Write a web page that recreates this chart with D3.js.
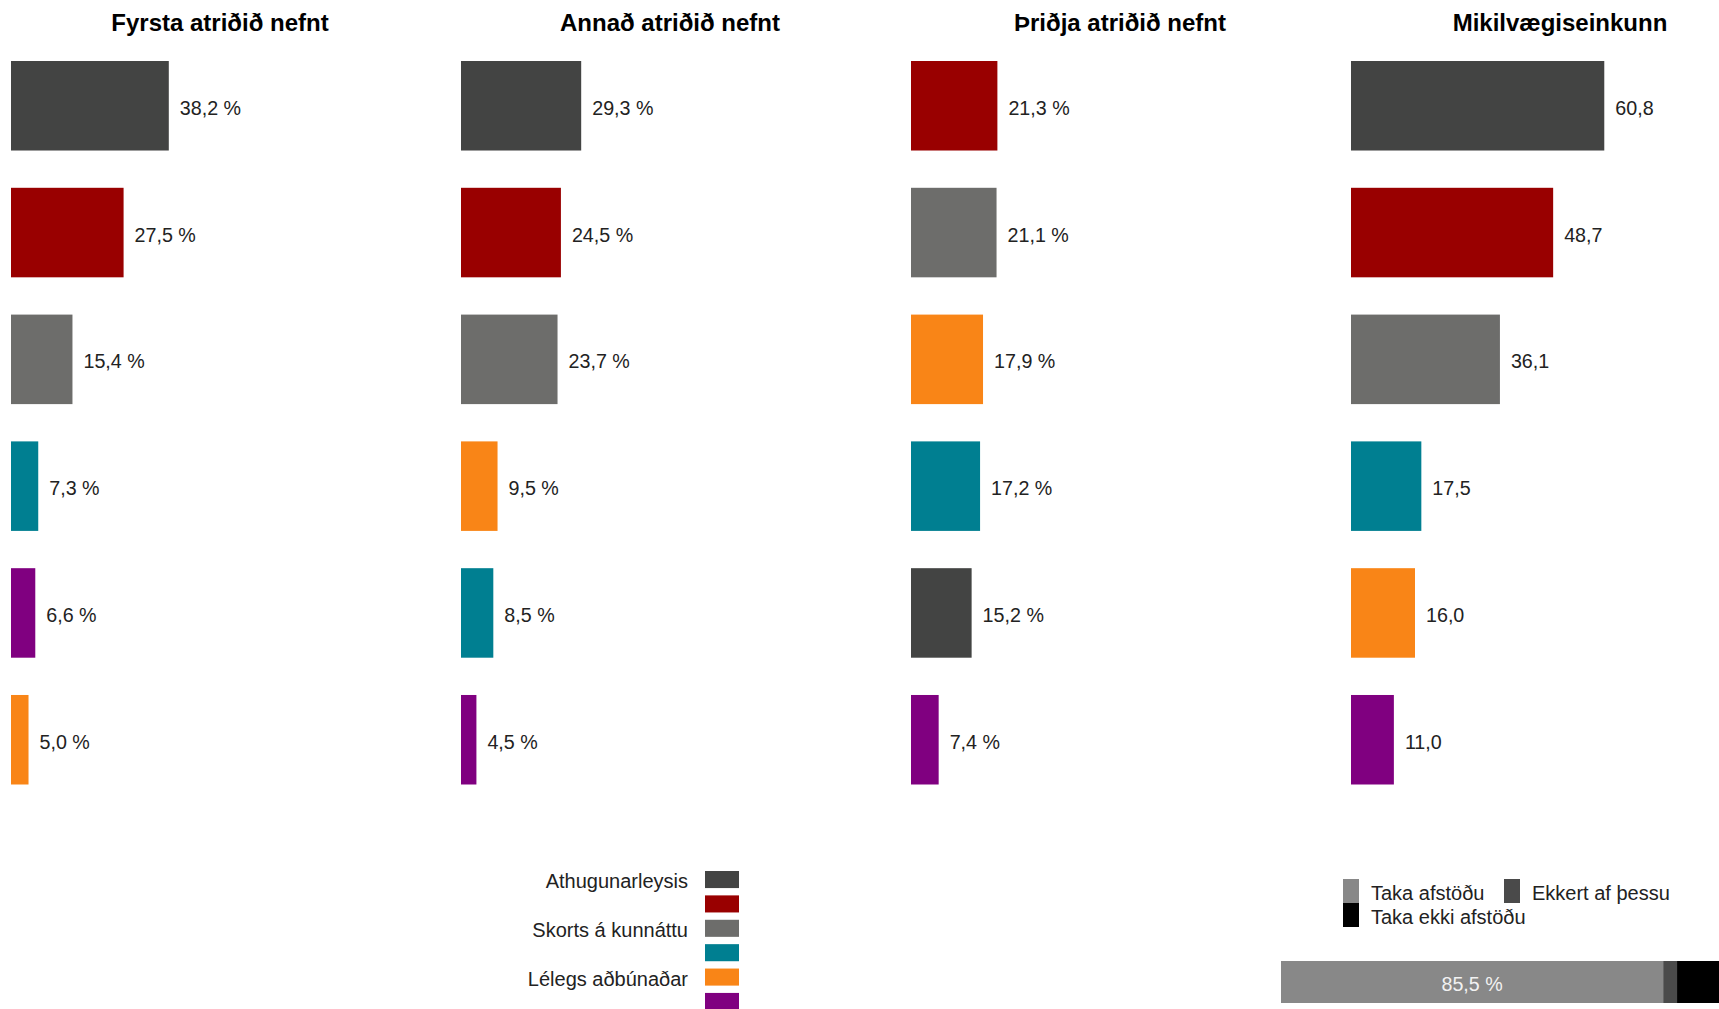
<!DOCTYPE html>
<html>
<head>
<meta charset="utf-8">
<script src="https://cdn.jsdelivr.net/npm/d3@7"></script>
<style>
  html, body { margin: 0; padding: 0; background: #fff; overflow: hidden; }
  svg { display: block; font-family: "Liberation Sans", Arial, sans-serif; }
</style>
</head>
<body>
<div class="chart"></div>
<script>
// categories (legend order) and their colours
const categories = ["Athugunarleysis", "", "Skorts á kunnáttu", "", "Lélegs aðbúnaðar", ""]
const colors = ["#434443", "#990000", "#6d6d6b", "#007f91", "#f98517", "#800080"]

// panel titles
const titles = ["Fyrsta atriðið nefnt", "Annað atriðið nefnt", "Þriðja atriðið nefnt", "Mikilvægiseinkunn"]

// values per category, one array per panel
const first  = [38.2, 27.5, 15.4, 7.3, 5.0, 6.6]
const second = [29.3, 24.5, 23.7, 8.5, 9.5, 4.5]
const third  = [15.2, 21.3, 21.1, 17.2, 17.9, 7.4]
const score  = [60.8, 48.7, 36.1, 17.5, 16.0, 11.0]

// stacked answer bar
const answerLabels = ["Taka afstöðu", "Ekkert af þessu", "Taka ekki afstöðu"]
const answerValues = [85.5, 3.1, 11.4]
const answerColors = ["#888888", "#4a4a4a", "#000000"]

const width = 1719, height = 1009
const panelX = [11, 461, 911, 1351]
const locale = d3.formatLocale({decimal: ",", thousands: ".", grouping: [3], currency: ["", ""]})
const fmt = locale.format(".1f")

const svg = d3.select(".chart").append("svg")
  .attr("width", width)
  .attr("height", height)

// zero sits a little left of the panel edge, bars are cut at the edge
const x = d3.scaleLinear().domain([0, 100]).range([-3.6, 418.9])
const y = d3.scaleBand().domain(d3.range(6))
  .range([61, 784.5])
  .paddingInner(0.294)
  .paddingOuter(0)

const panels = [first, second, third, score]

panels.forEach((vals, p) => {
  const rows = vals.map((v, i) => ({v: v, c: i}))
    .sort((a, b) => b.v - a.v)
  const suffix = p < 3 ? " %" : ""

  const g = svg.append("g")
    .attr("transform", "translate(" + panelX[p] + ",0)")

  g.append("text")
    .attr("x", 209)
    .attr("y", 31)
    .attr("text-anchor", "middle")
    .style("font-size", "24px")
    .style("font-weight", "bold")
    .style("fill", "#000")
    .text(titles[p])

  g.selectAll("rect")
    .data(rows)
    .enter()
    .append("rect")
      .attr("x", 0)
      .attr("y", (d, i) => y(i))
      .attr("width", d => x(d.v))
      .attr("height", y.bandwidth())
      .style("fill", d => colors[d.c])

  g.selectAll("text.val")
    .data(rows)
    .enter()
    .append("text")
      .attr("class", "val")
      .attr("x", d => x(d.v) + 11)
      .attr("y", (d, i) => y(i) + y.bandwidth() / 2 + 9)
      .style("font-size", "19.7px")
      .style("fill", "#222")
      .text(d => fmt(d.v) + suffix)
})

// category legend
const lg = svg.append("g")
const ly = d3.scaleBand().domain(d3.range(6)).range([871, 1010]).paddingInner(0.3).paddingOuter(0)

lg.selectAll("rect")
  .data(categories)
  .enter()
  .append("rect")
    .attr("x", 705)
    .attr("y", (d, i) => ly(i))
    .attr("width", 34)
    .attr("height", ly.bandwidth())
    .style("fill", (d, i) => colors[i])

lg.selectAll("text")
  .data(categories)
  .enter()
  .append("text")
    .attr("x", 688)
    .attr("y", (d, i) => ly(i) + ly.bandwidth())
    .attr("text-anchor", "end")
    .style("font-size", "20px")
    .style("fill", "#222")
    .text(d => d)

// answer legend
const alPos = [[1343, 879], [1504, 879], [1343, 903]]
const al = svg.append("g")
answerLabels.forEach((lab, i) => {
  al.append("rect")
    .attr("x", alPos[i][0])
    .attr("y", alPos[i][1])
    .attr("width", 16)
    .attr("height", 24)
    .style("fill", answerColors[i])
  al.append("text")
    .attr("x", alPos[i][0] + 28)
    .attr("y", alPos[i][1] + 21)
    .style("font-size", "20px")
    .style("fill", "#222")
    .text(lab)
})

// stacked answer bar
const xs = d3.scaleLinear().domain([0, 100]).range([1281, 1728])
let acc = 0
const segs = answerValues.map((v, i) => {
  const s = {x0: acc, x1: acc + v, c: answerColors[i], v: v}
  acc += v
  return s
})

svg.selectAll("rect.seg")
  .data(segs)
  .enter()
  .append("rect")
    .attr("class", "seg")
    .attr("x", d => xs(d.x0))
    .attr("y", 961)
    .attr("width", d => xs(d.x1) - xs(d.x0))
    .attr("height", 42)
    .style("fill", d => d.c)

svg.append("text")
  .attr("x", (xs(segs[0].x0) + xs(segs[0].x1)) / 2)
  .attr("y", 991)
  .attr("text-anchor", "middle")
  .style("font-size", "19.7px")
  .style("fill", "#f2f2f2")
  .text(fmt(segs[0].v) + " %")
</script>
</body>
</html>
